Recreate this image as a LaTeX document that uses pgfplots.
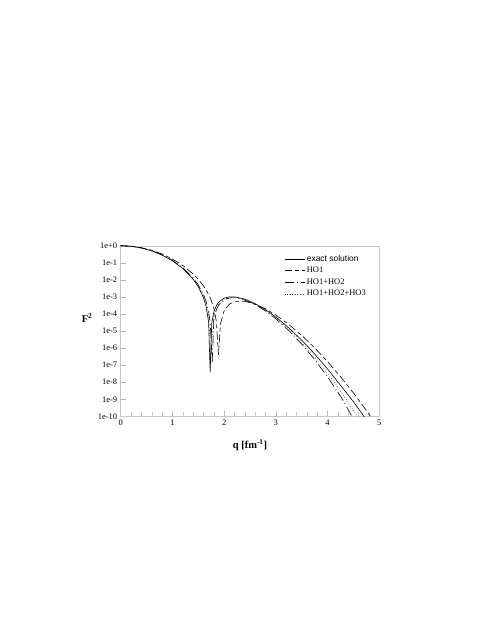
\documentclass[border=0pt]{standalone}
\usepackage{pgfplots}
\usepackage{pgfplotstable}
\pgfplotsset{compat=1.18}
\usepackage{fontspec}
\setmainfont{Liberation Serif}
\setsansfont{Liberation Sans}

% q [fm^-1]   F^2
\pgfplotstableread{
q F
0 1
0.2 0.927
0.4 0.736
0.6 0.498
0.8 0.282
1.0 0.130
1.2 0.0461
1.4 0.0108
1.5 3.92e-3
1.6 9.1e-4
1.65 2.91e-4
1.7 3.44e-5
1.73 3.8e-8
1.76 2.75e-5
1.8 1.29e-4
1.85 3.11e-4
1.9 5.10e-4
2.0 8.43e-4
2.1 1.01e-3
2.2 1.01e-3
2.4 7.38e-4
2.6 4.01e-4
2.8 1.77e-4
3.0 6.56e-5
3.25 1.54e-5
3.5 2.91e-6
3.75 4.52e-7
4.0 5.9e-8
4.25 6.6e-9
4.5 7.1e-10
4.75 6.3e-11
}\exact

\pgfplotstableread{
q F
0 1
0.2 0.934
0.4 0.761
0.6 0.538
0.8 0.326
1.0 0.167
1.2 0.0697
1.4 0.0221
1.5 0.0107
1.6 4.41e-3
1.7 1.38e-3
1.75 6.32e-4
1.8 2.19e-4
1.85 3.62e-5
1.89 4.0e-7
1.93 2.69e-5
2.0 1.54e-4
2.1 3.71e-4
2.2 5.22e-4
2.4 5.48e-4
2.6 3.74e-4
2.8 1.97e-4
3.0 8.57e-5
3.25 2.42e-5
3.5 5.50e-6
3.75 1.03e-6
4.0 1.61e-7
4.25 2.11e-8
4.5 2.34e-9
4.75 2.20e-10
5.0 1.77e-11
}\hoone

\pgfplotstableread{
q F
0 1
0.2 0.929
0.4 0.744
0.6 0.510
0.8 0.294
1.0 0.140
1.2 0.0515
1.4 0.0130
1.5 5.07e-3
1.6 1.40e-3
1.65 5.60e-4
1.7 1.40e-4
1.73 3.15e-5
1.77 1.5e-7
1.8 4.26e-5
1.85 1.78e-4
1.9 3.51e-4
2.0 6.75e-4
2.1 8.60e-4
2.2 8.89e-4
2.4 6.57e-4
2.6 3.52e-4
2.8 1.49e-4
3.0 5.15e-5
3.25 1.07e-5
3.5 1.71e-6
3.75 2.12e-7
4.0 2.05e-8
4.25 1.53e-9
4.5 7.0e-11
}\hotwo

\pgfplotstableread{
q F
0 1
0.2 0.928
0.4 0.740
0.6 0.504
0.8 0.288
1.0 0.135
1.2 0.0488
1.4 0.0118
1.5 4.47e-3
1.6 1.14e-3
1.65 4.13e-4
1.7 7.77e-5
1.745 3.0e-7
1.8 8.02e-5
1.85 2.40e-4
1.9 4.27e-4
2.0 7.56e-4
2.1 9.33e-4
2.2 9.48e-4
2.4 6.94e-4
2.6 3.74e-4
2.8 1.61e-4
3.0 5.78e-5
3.25 1.27e-5
3.5 2.21e-6
3.75 3.06e-7
4.0 3.40e-8
4.25 3.04e-9
4.5 2.19e-10
4.75 1.26e-11
}\hothree

\begin{document}
\begin{tikzpicture}
\path[use as bounding box] (-120.7bp,-215.7bp) rectangle (367.3bp,416.3bp);
\begin{axis}[
  at={(0,0)}, anchor=south west,
  scale only axis, width=258.6bp, height=170.6bp,
  ymode=log, xmin=0, xmax=5, ymin=1e-10, ymax=1,
  xtick={0,1,2,3,4,5},
  minor x tick num=4,
  ytick={1,1e-1,1e-2,1e-3,1e-4,1e-5,1e-6,1e-7,1e-8,1e-9,1e-10},
  yticklabels={1e+0,1e-1,1e-2,1e-3,1e-4,1e-5,1e-6,1e-7,1e-8,1e-9,1e-10},
  /pgf/number format/assume math mode=true,
  tick label style={font=\fontsize{8.5}{9}\selectfont},
  axis line style={gray!45},
  major tick length=5bp, minor tick length=4bp,
  every tick/.style={gray!60},
  minor tick style={gray!40},
  xtick pos=bottom, ytick pos=left,
  tick align=inside,
  xlabel={\textbf{q [fm\textsuperscript{-1}]}},
  ylabel={\textbf{F\textsuperscript{2}}},
  xlabel style={at={(axis description cs:0.5,-0.17)}, anchor=center, font=\fontsize{10.5}{12}\selectfont},
  ylabel style={at={(axis description cs:-0.13,0.575)}, anchor=center, rotate=-90, font=\fontsize{10.5}{12}\selectfont},
  legend style={at={(axis description cs:0.62,0.97)}, anchor=north west,
    draw=none, fill=none, font=\fontsize{8.5}{10}\selectfont,
    row sep=0.5bp},
  legend cell align=left,
  legend image code/.code={\draw[#1] (0bp,0bp) -- (20bp,0bp);},
  every axis plot/.append style={line width=0.6pt, black},
]
\addplot[mark=none] table {\exact};
\addlegendentry{\sffamily exact solution}
\addplot[mark=none, dash pattern=on 8pt off 3pt on 4pt off 3pt] table {\hoone};
\addlegendentry{HO1}
\addplot[mark=none, dash pattern=on 10pt off 3pt on 1pt off 3pt] table {\hotwo};
\addlegendentry{HO1+HO2}
\addplot[mark=none, dotted, black!80] table {\hothree};
\addlegendentry{HO1+HO2+HO3}
\end{axis}
\end{tikzpicture}
\end{document}
